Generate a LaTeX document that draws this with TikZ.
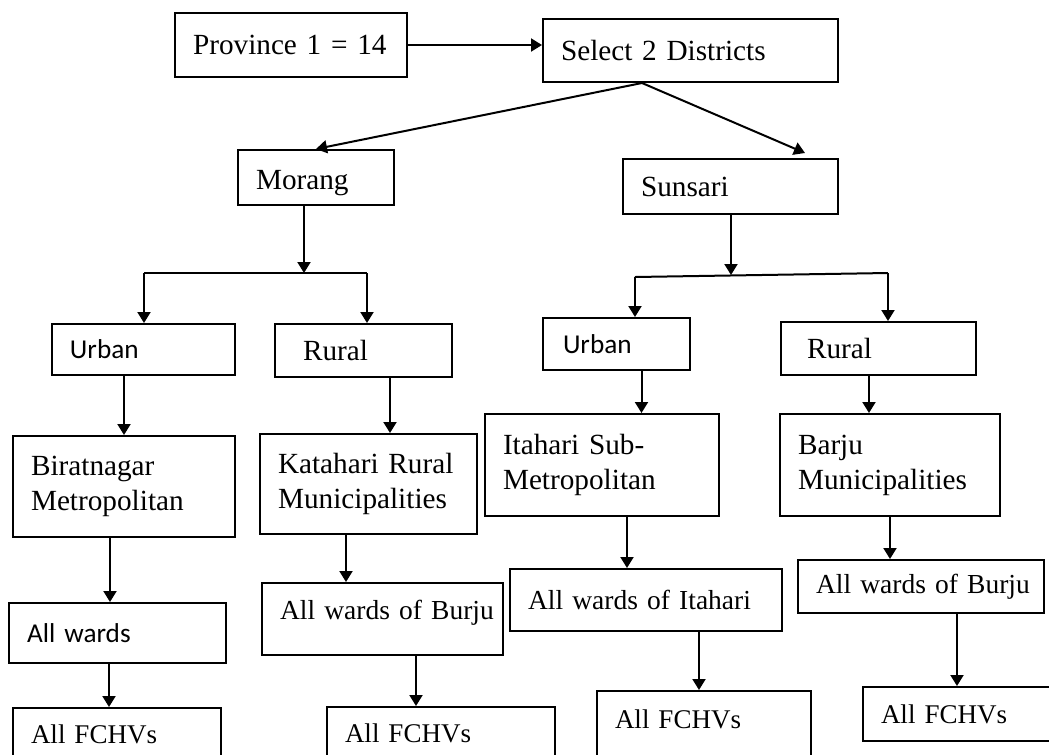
\documentclass[tikz,border=0pt]{standalone}
\usepackage{fontspec}
\setmainfont{Liberation Serif}
\newfontfamily\calibrifont{Carlito}
\usetikzlibrary{arrows.meta,calc}
\newcommand\txtserif{\fontsize{11.7}{14}\selectfont}
\newcommand\txtward{\fontsize{11}{13}\selectfont}
\newcommand\txtfchv{\fontsize{10.8}{13}\selectfont}
\newcommand\txtsans{\calibrifont\fontsize{10.9}{13}\selectfont}

\begin{document}
\begin{tikzpicture}[
  x=0.4pt,y=-0.4pt,
  box/.style={draw,line width=0.8pt,anchor=north west,align=left,
    inner xsep=7.2pt,inner ysep=0pt,font=\txtserif},
  sbox/.style={box,font=\txtsans},
  wbox/.style={box,font=\txtward},
  fbox/.style={box,font=\txtfchv},
  ar/.style={-{Triangle[length=4.4pt,width=5.2pt]},line width=0.8pt},
  ln/.style={line width=0.8pt}
]
\clip (0,0) rectangle (1049,755);

% top row
\node[box,text width=78.4pt,minimum height=25.6pt] (prov) at (174,12) {Province 1 = 14};
\node[box,text width=103.6pt,minimum height=25.2pt] (sel) at (542,18) {Select 2 Districts};

% districts
\node[box,text width=48pt,minimum height=22pt,text height=12pt] (mor) at (237,149) {Morang};
\node[box,text width=71.6pt,minimum height=22pt] (sun) at (622,158) {Sunsari};

% urban / rural
\node[sbox,text width=58.8pt,minimum height=20.4pt] (urb1) at (51,323) {Urban};
\node[box,inner xsep=11.2pt,text width=48.4pt,minimum height=21.2pt] (rur1) at (274,323) {Rural};
\node[sbox,inner xsep=8pt,text width=42.8pt,minimum height=20.8pt] (urb2) at (542,317) {Urban};
\node[box,inner xsep=10.4pt,text width=57.2pt,minimum height=21.2pt] (rur2) at (780,321) {Rural};

% municipalities
\node[box,text width=74.4pt,minimum height=40.4pt] (bir) at (12,435) {Biratnagar\\Metropolitan};
\node[box,text width=72.4pt,minimum height=40pt] (kat) at (259,433) {Katahari Rural\\Municipalities};
\node[box,text width=79.2pt,minimum height=40.8pt] (ita) at (484,413) {Itahari Sub-\\Metropolitan};
\node[box,text width=73.6pt,minimum height=40.8pt] (bar) at (779,413) {Barju\\Municipalities};

% wards
\node[sbox,text width=72.4pt,minimum height=24pt] (allw) at (8,602) {All wards};
\node[wbox,text width=82pt,minimum height=28.8pt,text depth=7.2pt] (wbur1) at (261,582) {\mbox{All wards of Burju}};
\node[wbox,text width=94.4pt,minimum height=24.8pt] (wita) at (509,568) {\mbox{All wards of Itahari}};
\node[wbox,text width=84pt,minimum height=21.2pt] (wbur2) at (797,559) {\mbox{All wards of Burju}};

% FCHVs (cut at the bottom edge)
\node[fbox,text width=68.8pt,minimum height=36pt,text depth=15.2pt] (fch1) at (12,707) {All FCHVs};
\node[fbox,text width=76.8pt,minimum height=36pt,text depth=15.2pt] (fch2) at (326,706) {All FCHVs};
\node[fbox,text width=71.2pt,minimum height=36pt,text depth=13.6pt] (fch3) at (596,690) {All FCHVs};
\node[fbox,text width=80pt,minimum height=21.6pt] (fch4) at (862,686) {All FCHVs};

% junctions
\coordinate (selb) at ($(sel.south west)+(100,0)$);
\coordinate (sunin) at ($(sun.north east)+(-34,-5)$);
\coordinate (mj) at (304,273);
\coordinate (mjl) at (144,273);
\coordinate (mjr) at (367,273);
\coordinate (sj) at (731,275);
\coordinate (sjl) at (635,277);
\coordinate (sjr) at (888,273);

\draw[ar] (prov.east) -- (prov.east -| sel.west);
\draw[ar] (selb) -- (mor.north);
\draw[ar] (selb) -- (sunin);

\draw[ar] (mor.south -| mj) -- (mj);
\draw[ln] (mjl) -- (mjr);
\draw[ar] (mjl) -- (mjl |- urb1.north);
\draw[ar] (mjr) -- (mjr |- rur1.north);

\draw[ar] (sun.south -| sj) -- (sj);
\draw[ln] (sjl) -- (sjr);
\draw[ar] (sjl) -- (sjl |- urb2.north);
\draw[ar] (sjr) -- (sjr |- rur2.north);

\draw[ar] ([xshift=-7.8pt]urb1.south) coordinate (a1) -- (a1 |- bir.north);
\draw[ar] ([xshift=10.6pt]rur1.south) coordinate (a2) -- (a2 |- kat.north);
\draw[ar] ([xshift=10pt]urb2.south) coordinate (a3) -- (a3 |- ita.north);
\draw[ar] ([xshift=-3.8pt]rur2.south) coordinate (a4) -- (a4 |- bar.north);

\draw[ar] ([xshift=-5.6pt]bir.south) coordinate (b1) -- (b1 |- allw.north);
\draw[ar] ([xshift=-9pt]kat.south) coordinate (b2) -- (b2 |- wbur1.north);
\draw[ar] ([xshift=10pt]ita.south) coordinate (b3) -- (b3 |- wita.north);
\draw[ar] (bar.south) -- (bar.south |- wbur2.north);

\draw[ar] ([xshift=-3.4pt]allw.south) coordinate (c1) -- (c1 |- fch1.north);
\draw[ar] ([xshift=13.4pt]wbur1.south) coordinate (c2) -- (c2 |- fch2.north);
\draw[ar] ([xshift=21.2pt]wita.south) coordinate (c3) -- (c3 |- fch3.north);
\draw[ar] ([xshift=14.4pt]wbur2.south) coordinate (c4) -- (c4 |- fch4.north);
\end{tikzpicture}
\end{document}
